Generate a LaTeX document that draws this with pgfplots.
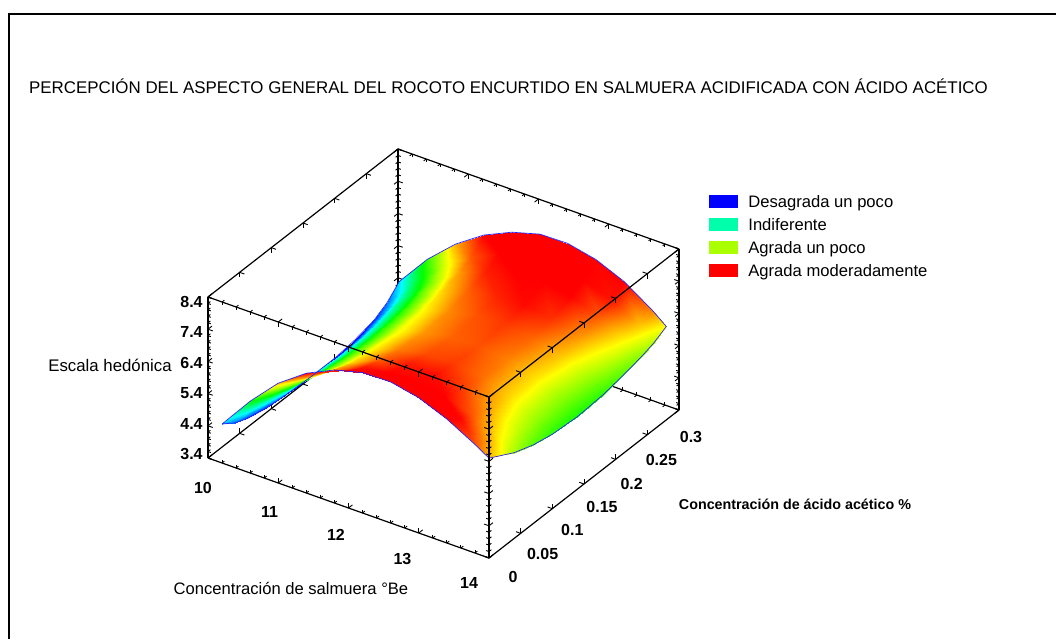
\documentclass[border=0pt]{standalone}
\usepackage{fontspec}
\setmainfont{Liberation Sans}
\usepackage{pgfplots}
\pgfplotsset{compat=1.18}
\usetikzlibrary{calc}

\begin{document}
\begin{tikzpicture}
\begin{axis}[
	x={(70.25pt,-25pt)},
	y={(633.3pt,493.3pt)},
	z={(0pt,32.2pt)},
	xmin=10, xmax=14,
	ymin=0, ymax=0.3,
	zmin=3.4, zmax=8.4,
	clip=false,
	3d box=complete*,
	axis line style={line width=1.2pt},
	tick style={black, line width=0.9pt},
	major tick length=5pt,
	minor tick length=3pt,
	tick align=inside,
	xtick={10,11,12,13,14},
	xticklabels={10,11,12,13,14},
	minor x tick num=4,
	ytick={0,0.05,0.1,0.15,0.2,0.25,0.3},
	yticklabels={0,0.05,0.1,0.15,0.2,0.25,0.3},
	minor y tick num=0,
	ztick={3.4,4.4,5.4,6.4,7.4,8.4},
	zticklabels={3.4,4.4,5.4,6.4,7.4,8.4},
	minor z tick num=4,
	ticklabel style={font=\fontsize{16}{18}\selectfont\bfseries, anchor=center, inner sep=0pt, outer sep=0pt},
	x tick label style={xshift={(-5-3.75*\ticknum)*1pt}, yshift={(-30+1.3*\ticknum)*1pt}},
	y tick label style={xshift={(24-2*\ticknum)*1pt}, yshift={(-19-1.3*\ticknum)*1pt}},
	z tick label style={xshift=-16.5pt, yshift={(3.5-1.7*\ticknum)*1pt}},
	xlabel={Concentración de salmuera °Be},
	xlabel style={at={(axis cs:14,0,3.4)}, anchor=center, xshift=-198pt, yshift=-30pt, font=\fontsize{16.6}{18}\selectfont},
	ylabel={Concentración de ácido acético \%},
	ylabel style={at={(axis cs:14,0,3.4)}, anchor=center, sloped=false, rotate=0, xshift=306pt, yshift=54pt, font=\fontsize{14.3}{16}\selectfont\bfseries},
	zlabel={Escala hedónica},
	zlabel style={at={(axis cs:14,0,3.4)}, anchor=center, rotate=-90, xshift=-379pt, yshift=193pt, font=\fontsize{16.8}{18}\selectfont},
	title={PERCEPCIÓN DEL ASPECTO GENERAL DEL ROCOTO ENCURTIDO EN SALMUERA ACIDIFICADA CON ÁCIDO ACÉTICO},
	title style={at={(axis cs:14,0,3.4)}, anchor=center, xshift=19.5pt, yshift=466pt, font=\fontsize{16.9}{18}\selectfont},
	colormap={hedonica}{rgb255(0cm)=(0,0,255); rgb255(0.85cm)=(0,255,255); rgb255(1.6cm)=(0,255,0); rgb255(2.3cm)=(255,255,0); rgb255(3cm)=(255,0,0)},
	point meta min=4,
	point meta max=7,
	legend style={at={(axis cs:14,0.3,8.4)}, anchor=north west, xshift=30pt, yshift=56pt, draw=none, fill=none, inner sep=0pt, font=\fontsize{16.6}{18}\selectfont, row sep=5.4pt, legend cell align=left},
	legend image code/.code={\fill[#1, draw=none] (0pt,-6pt) rectangle (29pt,6.5pt); \path (37pt,0pt);},
]

% superficie de respuesta
\addplot3[surf, shader=interp, z buffer=sort, mesh/cols=11, point meta=z, forget plot] coordinates {
(10.2,0,4.61) (10.6,0,5.63) (11.0,0,6.50) (11.4,0,7.12) (11.8,0,7.53) (12.2,0,7.76) (12.6,0,7.78) (13.0,0,7.60) (13.4,0,7.25) (13.8,0,6.77) (14,0,6.50)
(10.2,0.02,4.34) (10.6,0.02,5.35) (11.0,0.02,6.20) (11.4,0.02,6.81) (11.8,0.02,7.22) (12.2,0.02,7.44) (12.6,0.02,7.47) (13.0,0.02,7.31) (13.4,0.02,6.99) (13.8,0.02,6.54) (14,0.02,6.28)
(10.2,0.04,4.17) (10.6,0.04,5.17) (11.0,0.04,5.99) (11.4,0.04,6.60) (11.8,0.04,6.97) (12.2,0.04,7.17) (12.6,0.04,7.21) (13.0,0.04,7.06) (13.4,0.04,6.76) (13.8,0.04,6.32) (14,0.04,6.06)
(10.2,0.07,4.03) (10.6,0.07,5.01) (11.0,0.07,5.82) (11.4,0.07,6.40) (11.8,0.07,6.76) (12.2,0.07,6.94) (12.6,0.07,6.97) (13.0,0.07,6.83) (13.4,0.07,6.53) (13.8,0.07,6.11) (14,0.07,5.84)
(10.2,0.10,3.97) (10.6,0.10,4.94) (11.0,0.10,5.73) (11.4,0.10,6.31) (11.8,0.10,6.65) (12.2,0.10,6.80) (12.6,0.10,6.84) (13.0,0.10,6.70) (13.4,0.10,6.40) (13.8,0.10,5.98) (14,0.10,5.71)
(10.2,0.14,3.93) (10.6,0.14,4.89) (11.0,0.14,5.67) (11.4,0.14,6.25) (11.8,0.14,6.58) (12.2,0.14,6.73) (12.6,0.14,6.78) (13.0,0.14,6.65) (13.4,0.14,6.36) (13.8,0.14,5.93) (14,0.14,5.65)
(10.2,0.18,3.93) (10.6,0.18,4.91) (11.0,0.18,5.69) (11.4,0.18,6.28) (11.8,0.18,6.62) (12.2,0.18,6.78) (12.6,0.18,6.85) (13.0,0.18,6.73) (13.4,0.18,6.45) (13.8,0.18,6.00) (14,0.18,5.71)
(10.2,0.21,4.01) (10.6,0.21,5.00) (11.0,0.21,5.77) (11.4,0.21,6.39) (11.8,0.21,6.73) (12.2,0.21,6.90) (12.6,0.21,6.98) (13.0,0.21,6.87) (13.4,0.21,6.58) (13.8,0.21,6.12) (14,0.21,5.82)
(10.2,0.24,4.16) (10.6,0.24,5.15) (11.0,0.24,5.93) (11.4,0.24,6.56) (11.8,0.24,6.92) (12.2,0.24,7.12) (12.6,0.24,7.20) (13.0,0.24,7.07) (13.4,0.24,6.76) (13.8,0.24,6.28) (14,0.24,5.96)
(10.2,0.26,4.38) (10.6,0.26,5.38) (11.0,0.26,6.16) (11.4,0.26,6.76) (11.8,0.26,7.15) (12.2,0.26,7.39) (12.6,0.26,7.44) (13.0,0.26,7.28) (13.4,0.26,6.95) (13.8,0.26,6.43) (14,0.26,6.09)
(10.2,0.28,4.75) (10.6,0.28,5.75) (11.0,0.28,6.53) (11.4,0.28,7.12) (11.8,0.28,7.52) (12.2,0.28,7.77) (12.6,0.28,7.79) (13.0,0.28,7.60) (13.4,0.28,7.23) (13.8,0.28,6.65) (14,0.28,6.30)
};

% contorno azul de la superficie
\addplot3[blue!85!white, line width=0.7pt, no markers, forget plot] coordinates {
(10.2,0,4.61) (10.6,0,5.63) (11.0,0,6.50) (11.4,0,7.12) (11.8,0,7.53) (12.2,0,7.76) (12.6,0,7.78) (13.0,0,7.60) (13.4,0,7.25) (13.8,0,6.77) (14,0,6.50)
(14,0.02,6.28) (14,0.04,6.06) (14,0.07,5.84) (14,0.10,5.71) (14,0.14,5.65) (14,0.18,5.71) (14,0.21,5.82) (14,0.24,5.96) (14,0.26,6.09) (14,0.28,6.30)
(13.8,0.28,6.65) (13.4,0.28,7.23) (13.0,0.28,7.60) (12.6,0.28,7.79) (12.2,0.28,7.77) (11.8,0.28,7.52) (11.4,0.28,7.12) (11.0,0.28,6.53) (10.6,0.28,5.75) (10.2,0.28,4.75)
(10.2,0.26,4.38) (10.2,0.24,4.16) (10.2,0.21,4.01) (10.2,0.18,3.93) (10.2,0.14,3.93) (10.2,0.10,3.97) (10.2,0.07,4.03) (10.2,0.04,4.17) (10.2,0.02,4.34) (10.2,0,4.61)
};

\addlegendimage{fill={rgb,255:red,0;green,0;blue,255}}
\addlegendentry{Desagrada un poco}
\addlegendimage{fill={rgb,255:red,0;green,255;blue,170}}
\addlegendentry{Indiferente}
\addlegendimage{fill={rgb,255:red,170;green,255;blue,0}}
\addlegendentry{Agrada un poco}
\addlegendimage{fill=red}
\addlegendentry{Agrada moderadamente}

\path (axis cs:14,0,3.4) coordinate (F);
\end{axis}

% marco exterior, en pixeles de la imagen
\path ($(F)+(-489pt,558pt)$) coordinate (TL);
\begin{scope}[shift={(TL)}, x=1pt, y=-1pt]
\path[use as bounding box] (0,0) rectangle (1056,639);
\draw[line width=1.5pt] (9,639) -- (9,14) -- (1056,14);
\end{scope}
\end{tikzpicture}
\end{document}
